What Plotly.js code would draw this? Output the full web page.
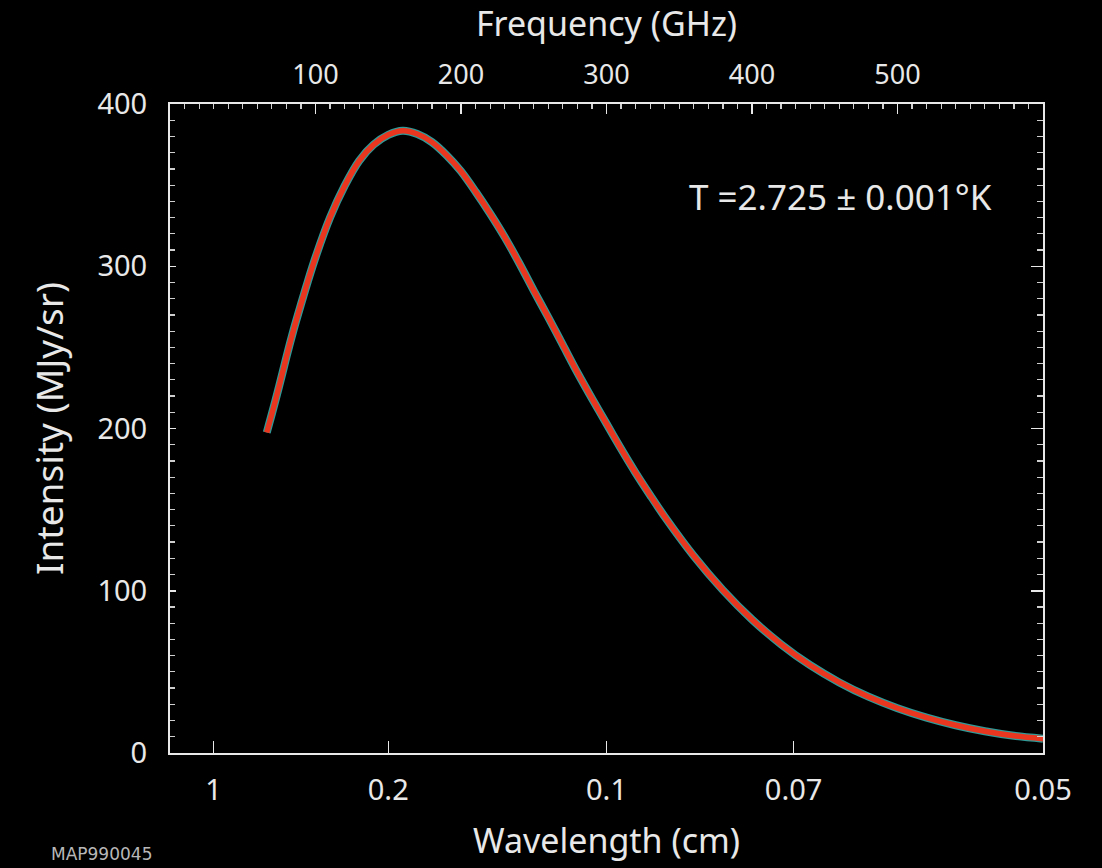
<!DOCTYPE html>
<html>
<head>
<meta charset="utf-8">
<script src="https://cdn.plot.ly/plotly-3.0.1.min.js"></script>
<style>
html,body{margin:0;padding:0;background:#000;}
#chart{width:1102px;height:868px;}
</style>
</head>
<body>
<div id="chart"></div>
<script>
// Frequency (GHz) and intensity (MJy/sr)
const frequencyGHz = [66.5, 70, 75, 80, 85, 90, 95, 100, 110, 120, 130, 140, 150, 160, 170, 180, 190, 200, 210, 220, 230, 240, 250, 260, 270, 280, 290, 300, 310, 320, 330, 340, 360, 380, 400, 420, 440, 460, 480, 500, 520, 540, 560, 580, 600];
const intensityMJy = [197.5, 209, 226, 244, 261, 276.5, 291.5, 305.5, 330, 349.5, 365, 375, 381, 383.5, 381.5, 376.5, 368.5, 358.5, 346, 332.5, 318, 302, 285, 268.5, 251.5, 234.5, 218.5, 203, 187.5, 172.7, 158.9, 145.6, 121.4, 100.4, 82.3, 67, 54.1, 43.5, 34.7, 27.6, 21.8, 17.1, 13.4, 10.6, 8.8];

// Top axis: frequency ticks
const freqTickVals = [100, 200, 300, 400, 500];
const freqTickText = ['100', '200', '300', '400', '500'];
// Bottom axis: wavelength labels placed at the matching frequency (c / lambda)
const wavelengthCm = [1, 0.2, 0.1, 0.07, 0.05];
const wavelengthText = ['1', '0.2', '0.1', '0.07', '0.05'];
const wavelengthTickVals = wavelengthCm.map(l => 30 / l); // GHz

const tempLabel = 'T =2.725 ± 0.001°K';
const codeLabel = 'MAP990045';

const FONT = 'Noto Sans, Open Sans, sans-serif';
const WHITE = '#e8e8e8';

const traces = [
  {x: frequencyGHz, y: intensityMJy, type: 'scatter', mode: 'lines',
   line: {color: '#2f9a98', width: 8, shape: 'spline', smoothing: 0.8}, hoverinfo: 'skip', showlegend: false},
  {x: frequencyGHz, y: intensityMJy, type: 'scatter', mode: 'lines',
   line: {color: '#e8361f', width: 5.5, shape: 'spline', smoothing: 0.8}, showlegend: false},
  {x: frequencyGHz, y: intensityMJy, type: 'scatter', mode: 'lines', xaxis: 'x2', yaxis: 'y2',
   line: {color: 'rgba(0,0,0,0)', width: 0}, hoverinfo: 'skip', showlegend: false}
];

const layout = {
  width: 1102, height: 868,
  paper_bgcolor: '#000', plot_bgcolor: '#000',
  margin: {l: 170, r: 59, t: 104, b: 115},
  font: {family: FONT, color: WHITE, size: 29},
  showlegend: false,
  xaxis: {
    range: [0, 600], showgrid: false, zeroline: false,
    showline: true, linecolor: WHITE, linewidth: 2,
    ticks: 'inside', ticklen: 12, tickwidth: 1.5, tickcolor: WHITE,
    tickvals: wavelengthTickVals, ticktext: wavelengthText,
    ticklabelstandoff: 10,
    tickfont: {family: FONT, size: 29, color: WHITE},
    title: {text: 'Wavelength (cm)', font: {family: FONT, size: 34, color: WHITE}, standoff: 22}
  },
  xaxis2: {
    range: [0, 600], overlaying: 'x', side: 'top', anchor: 'y',
    showgrid: false, zeroline: false,
    showline: true, linecolor: WHITE, linewidth: 2,
    ticks: 'inside', ticklen: 10, tickwidth: 1.5, tickcolor: WHITE,
    tickvals: freqTickVals, ticktext: freqTickText,
    minor: {dtick: 10, tick0: 0, ticks: 'inside', ticklen: 5, tickwidth: 1.2, tickcolor: '#cfcfcf'},
    ticklabelstandoff: 7,
    tickfont: {family: FONT, size: 27, color: WHITE},
    title: {text: 'Frequency (GHz)', font: {family: FONT, size: 34, color: WHITE}, standoff: 8}
  },
  yaxis: {
    range: [0, 400], showgrid: false, zeroline: false,
    showline: true, linecolor: WHITE, linewidth: 2,
    ticks: 'inside', ticklen: 6, tickwidth: 1.5, tickcolor: WHITE,
    dtick: 100, tick0: 0,
    minor: {dtick: 10, ticks: 'inside', ticklen: 5, tickwidth: 1.2, tickcolor: '#cfcfcf'},
    ticklabelstandoff: 15,
    tickfont: {family: FONT, size: 29, color: WHITE},
    title: {text: 'Intensity (MJy/sr)', font: {family: FONT, size: 37, color: WHITE}, standoff: 22}
  },
  yaxis2: {
    range: [0, 400], overlaying: 'y', side: 'right', anchor: 'x2',
    showgrid: false, zeroline: false,
    showline: true, linecolor: WHITE, linewidth: 2,
    ticks: 'inside', ticklen: 12, tickwidth: 1.5, tickcolor: WHITE,
    dtick: 100, tick0: 0, showticklabels: false,
    minor: {dtick: 10, ticks: 'inside', ticklen: 6, tickwidth: 1.2, tickcolor: '#cfcfcf'}
  },
  annotations: [
    {text: tempLabel, xref: 'paper', yref: 'paper', x: 0.7675, y: 0.857,
     xanchor: 'center', yanchor: 'middle', showarrow: false,
     font: {family: FONT, size: 35, color: WHITE}},
    {text: codeLabel, xref: 'paper', yref: 'paper', x: -0.078, y: -0.156,
     xanchor: 'center', yanchor: 'middle', showarrow: false,
     font: {family: 'DejaVu Sans, sans-serif', size: 17, color: '#b8b8b8'}}
  ]
};

Plotly.newPlot('chart', traces, layout, {displayModeBar: false, staticPlot: true});
</script>
</body>
</html>
